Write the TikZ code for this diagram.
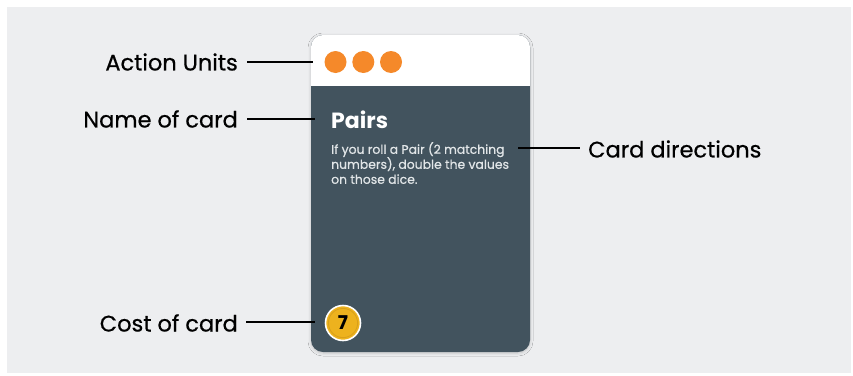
\documentclass[tikz,border=0pt]{standalone}
\usepackage{fontspec}
\setmainfont{Poppins}
\newfontfamily\medfont{Poppins}[FakeBold=0.6]
\usetikzlibrary{shadows.blur}
\definecolor{bgc}{HTML}{EDEEF0}
\definecolor{cardc}{HTML}{42535E}
\definecolor{dotc}{HTML}{F5892A}
\definecolor{coinc}{HTML}{EDB21E}
\definecolor{coinr}{HTML}{D9A01A}
\definecolor{descc}{HTML}{E2E6E8}
\tikzset{
  lbl/.style={font=\medfont\fontsize{22.5}{26}\selectfont, text=black, inner sep=0pt},
  lead/.style={line width=2.4pt, black},
  dot/.style={circle, fill=dotc, minimum size=22pt, inner sep=0pt},
}
\begin{document}
\begin{tikzpicture}[x=1pt,y=-1pt]
\useasboundingbox (0,0) rectangle (853,375);
\fill[white] (0,0) rectangle (853,375);
\fill[bgc] (7,7) rectangle (851,373);
% card
\path[fill=cardc, rounded corners=12pt, blur shadow={shadow xshift=0pt, shadow yshift=-1pt, shadow blur steps=6, shadow blur radius=3pt, shadow opacity=18}] (311,35) rectangle (530,352);
\begin{scope}
\clip[rounded corners=12pt] (311,35) rectangle (530,352);
\fill[white] (311,35) rectangle (530,86);
\end{scope}
\node[dot] (d1) at (335.5,62) {};
\node[dot] (d2) at (363.3,62) {};
\node[dot] (d3) at (391,62) {};
\node[anchor=base west, inner sep=0pt, text=white, font=\bfseries\fontsize{22}{26}\selectfont] (title) at (331,128) {Pairs};
\node[anchor=north west, inner sep=0pt, text=descc, align=left, font=\medfont\fontsize{12.4}{15}\selectfont] (desc) at (331,142) {If you roll a Pair (2 matching\\numbers), double the values\\on those dice.};
\node[circle, fill=coinc, draw=white, line width=1.6pt, minimum size=35pt, inner sep=0pt] (coin) at (343,323) {};
\draw[coinr, line width=0.8pt] (coin.center) circle (14.6pt);
\node[font=\bfseries\fontsize{19}{21}\selectfont, text=black, inner sep=0pt] at (coin.center) {7};
% labels
\node[lbl, anchor=east] (l1) at (238,62) {Action Units};
\node[lbl, anchor=east] (l2) at (238,119) {Name of card};
\node[lbl, anchor=east] (l4) at (238,323) {Cost of card};
\node[lbl, anchor=west] (l3) at (588,149) {Card directions};
\coordinate (c1) at (313,62);
\coordinate (c2) at (315,119);
\coordinate (c4) at (315,322);
\coordinate (c3) at (518,148);
\draw[lead] ([xshift=9pt]l1.east |- c1) -- (c1);
\draw[lead] ([xshift=9pt]l2.east |- c2) -- (c2);
\draw[lead] ([xshift=8pt]l4.east |- c4) -- (c4);
\draw[lead] (c3) -- ([xshift=-8pt]l3.west |- c3);
\end{tikzpicture}
\end{document}
